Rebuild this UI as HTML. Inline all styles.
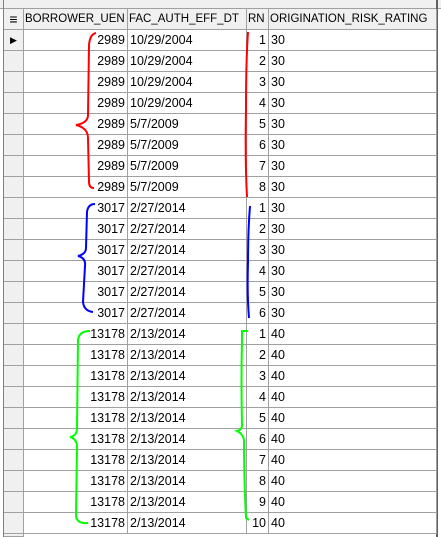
<!DOCTYPE html>
<html><head><meta charset="utf-8">
<style>
html,body{margin:0;padding:0;background:#fff;overflow:hidden;width:441px;height:537px;}
body{position:relative;font-family:"Liberation Sans",Arial,sans-serif;font-size:12.5px;color:#000;}
#grid{position:absolute;left:0;top:0;width:441px;height:537px;overflow:hidden;}
.cell{position:absolute;box-sizing:border-box;border-right:1px solid #a0a0a0;border-bottom:1px solid #a0a0a0;line-height:20px;height:21px;white-space:nowrap;overflow:hidden;padding:0 2px;}
.hdr{background:#f0f0f0;font-size:11.5px;padding:0 1px;}
.ind{background:#f0f0f0;}
.r{text-align:right;}
</style></head><body>
<div id="grid">
  <div style="position:absolute;left:0;top:0;width:441px;height:9px;background:#f0f0f0;border-bottom:1px solid #a0a0a0;box-sizing:border-box;"></div>
  <div style="position:absolute;left:3px;top:0;width:1px;height:537px;background:#808080;"></div>
  <div style="position:absolute;left:436px;top:0;width:2px;height:537px;background:#606060;"></div>
</div>
<svg id="marks" width="441" height="537" style="position:absolute;left:0;top:0;pointer-events:none">
  <path d="M96,33 Q90,34 89,45 L88,115 Q88,123 76,125 Q88,128 88,138 L89,182 Q89,188 94,188" fill="none" stroke="#f00" stroke-width="2"/>
  <path d="M248,32 Q246,60 246,110 Q245,160 247,197" fill="none" stroke="#f00" stroke-width="2"/>
  <path d="M95,204 Q88,204 87,212 L86,248 Q86,254 78,256 Q86,258 85,266 L83,302 Q84,311 93,312" fill="none" stroke="#00f" stroke-width="2"/>
  <path d="M250,206 Q248,230 248,262 Q247,295 249,318" fill="none" stroke="#00f" stroke-width="2"/>
  <path d="M90,331 Q79,331 78,340 L77,428 Q77,436 70,437 Q77,439 77,447 L76,516 Q77,524 88,523" fill="none" stroke="#0f0" stroke-width="2"/>
  <path d="M248,331 L242,331 L242,340 Q241,380 242,425 Q242,430 237,431 Q243,434 244,440 Q244,480 246,518 L249,520" fill="none" stroke="#0f0" stroke-width="2"/>
</svg>
<script>
const uens=['2989','2989','2989','2989','2989','2989','2989','2989','3017','3017','3017','3017','3017','3017','13178','13178','13178','13178','13178','13178','13178','13178','13178','13178'];
const dates=['10/29/2004','10/29/2004','10/29/2004','10/29/2004','5/7/2009','5/7/2009','5/7/2009','5/7/2009','2/27/2014','2/27/2014','2/27/2014','2/27/2014','2/27/2014','2/27/2014','2/13/2014','2/13/2014','2/13/2014','2/13/2014','2/13/2014','2/13/2014','2/13/2014','2/13/2014','2/13/2014','2/13/2014'];
const rns=['1','2','3','4','5','6','7','8','1','2','3','4','5','6','1','2','3','4','5','6','7','8','9','10'];
const ratings=['30','30','30','30','30','30','30','30','30','30','30','30','30','30','40','40','40','40','40','40','40','40','40','40'];
const g=document.getElementById('grid');
const cols=[[4,20],[24,104],[128,119],[247,22],[269,168]];
function cell(x,w,y,cls,txt){const d=document.createElement('div');d.className='cell '+cls;d.style.left=x+'px';d.style.width=w+'px';d.style.top=y+'px';d.textContent=txt;g.appendChild(d);return d;}
let h;
h=cell(4,20,9,'hdr','\u2261');


h.style.fontSize='14px';h.style.textAlign='center';
const hn=['BORROWER_UEN','FAC_AUTH_EFF_DT','RN','ORIGINATION_RISK_RATING'];
const hk=['header-borrower-uen','header-fac-auth-eff-dt','header-rn','header-origination-risk-rating'];
for(let i=0;i<4;i++){h=cell(cols[i+1][0],cols[i+1][1],9,'hdr',hn[i]);

}
for(let r=0;r<24;r++){const y=30+r*21;
let c=cell(4,20,y,'ind',r===0?'\u25B6':'');


c.style.fontSize='9px';c.style.textAlign='center';
c=cell(24,104,y,'r',uens[r]);


c=cell(128,119,y,'',dates[r]);


c=cell(247,22,y,'r',rns[r]);


c=cell(269,168,y,'',ratings[r]);


}
const e=cell(4,20,534,'ind','');


e.style.height='3px';
</script>
</body></html>
